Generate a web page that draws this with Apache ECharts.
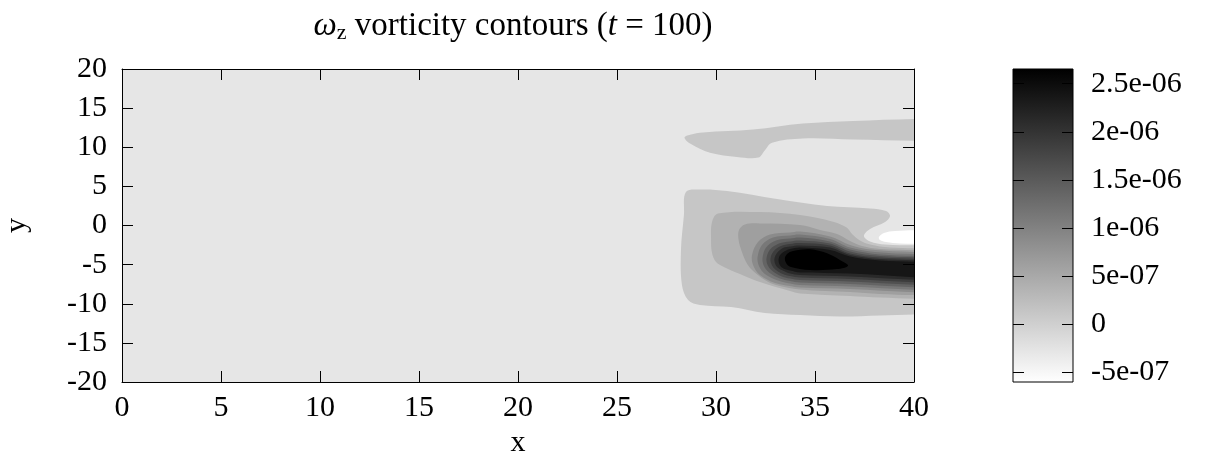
<!DOCTYPE html>
<html><head><meta charset="utf-8">
<script src="https://cdn.jsdelivr.net/npm/echarts@6/dist/echarts.min.js"></script>
<style>html,body{margin:0;padding:0;background:#fff}#c{width:1208px;height:468px}</style>
</head><body><div id="c"></div><script>
// ---- axis / colorbar data ----
const xRange = [0, 40];
const yRange = [-20, 20];
const cbRange = [-6.04e-7, 2.653e-6];
const cbTicks = [-5e-7, 0, 5e-7, 1e-6, 1.5e-6, 2e-6, 2.5e-6];
const cbLabels = ['-5e-07', '0', '5e-07', '1e-06', '1.5e-06', '2e-06', '2.5e-06'];

// ---- contour regions (x, y) ----
const domain = [[0, -20], [40, -20], [40, 20], [0, 20]];
const c0_upper = [[28.41,11.24],[28.69,10.47],[29.70,9.30],[31.06,8.76],[32.14,8.68],[32.47,9.62],[32.83,10.57],[34.39,11.11],[36.92,10.98],[40.5,10.8],[43,10.8],[43,13.64],[40.5,13.64],[36.92,13.36],[34.39,13.03],[31.87,12.26],[29.34,11.88],[28.69,11.6]];
const c0_main = [[28.48,4.28],[29.19,4.60],[30.56,4.41],[33.08,3.38],[35.61,2.49],[37.78,2.17],[38.59,1.85],[38.79,1.21],[38.54,0.45],[37.78,-0.45],[37.47,-1.34],[37.78,-2.04],[38.54,-2.43],[40.5,-2.53],[43,-2.55],[43,-11.30],[40.5,-11.35],[38.28,-11.49],[36.26,-11.62],[34.24,-11.43],[32.47,-11.17],[30.76,-10.41],[29.19,-10.15],[28.59,-9.51],[28.28,-7.60],[28.23,-3.13],[28.38,1.34]];
const c1 = [[30.10,1.53],[32.22,1.72],[34.24,1.34],[35.91,0.49],[36.60,-0.26],[36.87,-1.09],[37.27,-1.92],[37.78,-2.43],[38.79,-2.81],[40.5,-2.92],[43,-2.94],[43,-9.39],[40.5,-9.37],[38.28,-9.20],[36.77,-9.00],[34.24,-8.68],[33.74,-8.37],[32.22,-7.22],[31.21,-6.19],[30.45,-5.36],[30.0,-4.66],[29.80,-3.51],[29.75,-1.85],[29.80,0.45]];
const c2 = [[31.46,0.13],[32.22,0.26],[34.24,0.06],[35.25,-0.57],[36.11,-1.09],[36.77,-1.98],[37.37,-2.62],[38.28,-3.00],[40.5,-3.17],[43,-3.19],[43,-8.94],[40.5,-8.92],[38.28,-8.75],[36.77,-8.49],[34.24,-8.17],[33.03,-7.60],[32.47,-6.96],[31.82,-5.68],[31.52,-4.66],[31.31,-3.38],[31.14,-1.85],[31.16,-0.57]];
const c3 = [[32.73,-1.15],[33.74,-0.89],[34.24,-0.77],[35.76,-1.40],[36.77,-2.49],[37.78,-3.07],[40.5,-3.42],[43,-3.45],[43,-8.62],[40.5,-8.58],[36.77,-8.11],[34.24,-7.92],[33.74,-7.73],[32.98,-7.34],[32.22,-6.32],[31.87,-5.04],[31.82,-3.77],[32.12,-2.11]];
const c4 = [[32.88,-1.53],[33.74,-1.28],[34.24,-1.15],[35.76,-1.72],[36.77,-2.81],[38.03,-3.38],[40.5,-3.68],[43,-3.70],[43,-8.30],[40.5,-8.26],[36.77,-7.79],[34.24,-7.60],[33.74,-7.41],[33.13,-7.02],[32.47,-6.19],[32.17,-5.17],[32.10,-4.02],[32.32,-2.49]];
const c5 = [[33.03,-1.92],[33.74,-1.66],[34.24,-1.53],[35.76,-2.04],[36.77,-3.07],[38.28,-3.70],[40.5,-3.88],[43,-3.90],[43,-7.98],[40.5,-7.94],[36.77,-7.47],[34.24,-7.28],[33.74,-7.09],[33.23,-6.77],[32.68,-6.00],[32.42,-5.17],[32.35,-4.15],[32.53,-2.81]];
const c6 = [[33.18,-2.30],[33.74,-2.04],[34.24,-1.92],[35.76,-2.30],[36.77,-3.32],[38.28,-3.90],[40.5,-4.07],[43,-4.09],[43,-7.66],[40.5,-7.62],[36.77,-7.15],[34.24,-6.96],[33.74,-6.77],[33.33,-6.51],[32.88,-5.87],[32.63,-5.17],[32.55,-4.21],[32.73,-3.07]];
const c7 = [[33.28,-2.62],[33.74,-2.36],[34.24,-2.23],[35.76,-2.55],[36.77,-3.58],[38.28,-4.09],[40.5,-4.26],[43,-4.28],[43,-7.34],[40.5,-7.30],[36.77,-6.83],[34.24,-6.64],[33.74,-6.45],[33.38,-6.19],[33.03,-5.68],[32.83,-5.11],[32.75,-4.28],[32.90,-3.32]];
const c8 = [[33.38,-2.87],[33.74,-2.68],[34.24,-2.55],[35.76,-2.81],[36.77,-3.77],[38.28,-4.28],[40.5,-4.45],[43,-4.47],[43,-7.02],[40.5,-6.98],[36.77,-6.51],[34.24,-6.32],[33.74,-6.13],[33.48,-5.87],[33.18,-5.49],[33.01,-5.04],[32.95,-4.28],[33.08,-3.51]];
const c9 = [[33.54,-3.19],[33.74,-3.00],[34.24,-2.81],[35.76,-3.13],[36.77,-3.96],[38.28,-4.47],[40.5,-4.64],[43,-4.66],[43,-6.70],[40.5,-6.66],[36.77,-6.13],[34.24,-6.00],[33.74,-5.75],[33.54,-5.62],[33.33,-5.36],[33.21,-4.98],[33.16,-4.34],[33.26,-3.70]];
const c10 = [[33.48,-4.19],[33.59,-3.64],[33.89,-3.26],[34.75,-3.04],[35.61,-3.55],[36.26,-4.41],[36.67,-5.13],[36.11,-5.56],[34.75,-5.68],[33.74,-5.26],[33.54,-4.79]];
const cNeg = [[38.23,-1.47],[38.48,-0.96],[39.04,-0.70],[40.5,-0.59],[43,-0.57],[43,-2.36],[40.5,-2.34],[39.29,-2.30],[38.59,-2.11],[38.28,-1.85]];

const regionShapes = [domain, c0_upper, c0_main, c1, c2, c3, c4, c5, c6, c7, c8, c9, c10, cNeg];
// representative vorticity of each filled band
const regionLevels = [-2.85e-7, 1.25e-7, 1.25e-7, 3.75e-7, 6.25e-7, 8.75e-7, 1.125e-6, 1.375e-6, 1.625e-6, 1.875e-6, 2.125e-6, 2.375e-6, 2.65e-6, -6.04e-7];

// ---- rendering ----
const FONT = 'Liberation Serif';
const FS = 30;
function gray(v) {
  let t = (v - cbRange[0]) / (cbRange[1] - cbRange[0]);
  t = Math.max(0, Math.min(1, t));
  const g = Math.round(255 * (1 - t));
  return 'rgb(' + g + ',' + g + ',' + g + ')';
}
const blackLine = { show: true, onZero: false, lineStyle: { color: '#000', width: 1 } };
const tickIn = { show: true, inside: true, length: 11, lineStyle: { color: '#000', width: 1 } };
const lbl = { color: '#000', fontFamily: FONT, fontSize: FS };

const chart = echarts.init(document.getElementById('c'), null, { renderer: 'canvas' });
chart.setOption({
  animation: false,
  backgroundColor: '#fff',
  graphic: [{
    type: 'text', x: 513, y: 26, z: 100,
    style: {
      text: '{i|ω}{s|z} vorticity contours ({i|t} = 100)',
      align: 'center', verticalAlign: 'middle',
      fontFamily: FONT, fontSize: 33, fill: '#000',
      rich: {
        i: { fontFamily: FONT, fontSize: 33, fontStyle: 'italic' },
        s: { fontFamily: FONT, fontSize: 22, verticalAlign: 'bottom', padding: [14, 0, 0, 0] }
      }
    }
  }],
  grid: [
    { left: 122, top: 69, width: 792, height: 313, outerBoundsMode: 'none', containLabel: false },
    { left: 1013, top: 69, width: 60, height: 313, outerBoundsMode: 'none', containLabel: false }
  ],
  xAxis: [
    { gridIndex: 0, type: 'value', min: xRange[0], max: xRange[1], interval: 5, position: 'bottom', z: 10,
      axisLine: blackLine, axisTick: tickIn, splitLine: { show: false },
      axisLabel: Object.assign({ margin: 11, showMinLabel: true, showMaxLabel: true }, lbl),
      name: 'x', nameLocation: 'middle', nameGap: 43, nameTextStyle: lbl },
    { gridIndex: 0, type: 'value', min: xRange[0], max: xRange[1], interval: 5, position: 'top', z: 10,
      axisLine: blackLine, axisTick: tickIn, splitLine: { show: false }, axisLabel: { show: false } },
    { gridIndex: 1, type: 'value', min: 0, max: 1, show: false }
  ],
  yAxis: [
    { gridIndex: 0, type: 'value', min: yRange[0], max: yRange[1], interval: 5, position: 'left', z: 10,
      axisLine: blackLine, axisTick: tickIn, splitLine: { show: false },
      axisLabel: Object.assign({ margin: 15, showMinLabel: true, showMaxLabel: true }, lbl),
      name: 'y', nameLocation: 'middle', nameRotate: 90, nameGap: 90, nameTextStyle: lbl },
    { gridIndex: 0, type: 'value', min: yRange[0], max: yRange[1], interval: 5, position: 'right', z: 10,
      axisLine: blackLine, axisTick: tickIn, splitLine: { show: false }, axisLabel: { show: false } },
    { gridIndex: 1, type: 'value', min: cbRange[0], max: cbRange[1], position: 'left', z: 10,
      axisLine: { show: false, onZero: false }, splitLine: { show: false }, axisLabel: { show: false },
      axisTick: Object.assign({ customValues: cbTicks }, tickIn) },
    { gridIndex: 1, type: 'value', min: cbRange[0], max: cbRange[1], position: 'right', z: 10,
      axisLine: { show: false, onZero: false }, splitLine: { show: false },
      axisTick: Object.assign({ customValues: cbTicks }, tickIn),
      axisLabel: Object.assign({ margin: 18, customValues: cbTicks, showMinLabel: true, showMaxLabel: true,
        formatter: function (v) {
          let best = 0;
          for (let i = 1; i < cbTicks.length; i++) if (Math.abs(cbTicks[i] - v) < Math.abs(cbTicks[best] - v)) best = i;
          return cbLabels[best];
        } }, lbl) }
  ],
  series: [
    {
      type: 'custom', xAxisIndex: 0, yAxisIndex: 0, clip: true, silent: true,
      data: regionShapes.map(function (s) { return s[0]; }),
      renderItem: function (params, api) {
        const pts = regionShapes[params.dataIndex].map(function (p) { return api.coord(p); });
        return {
          type: 'polygon',
          shape: { points: pts, smooth: params.dataIndex === 0 ? 0 : 0.35 },
          style: { fill: gray(regionLevels[params.dataIndex]), stroke: null }
        };
      }
    },
    {
      type: 'custom', xAxisIndex: 2, yAxisIndex: 2, clip: false, silent: true,
      data: [[0, cbRange[0]]],
      renderItem: function (params, api) {
        const p0 = api.coord([0, cbRange[0]]);
        const p1 = api.coord([1, cbRange[1]]);
        return {
          type: 'rect',
          shape: { x: p0[0], y: p1[1], width: p1[0] - p0[0], height: p0[1] - p1[1] },
          style: {
            fill: new echarts.graphic.LinearGradient(0, 0, 0, 1, [
              { offset: 0, color: gray(cbRange[1]) }, { offset: 1, color: gray(cbRange[0]) }
            ]),
            stroke: '#000', lineWidth: 1
          }
        };
      }
    }
  ]
});
</script></body></html>
